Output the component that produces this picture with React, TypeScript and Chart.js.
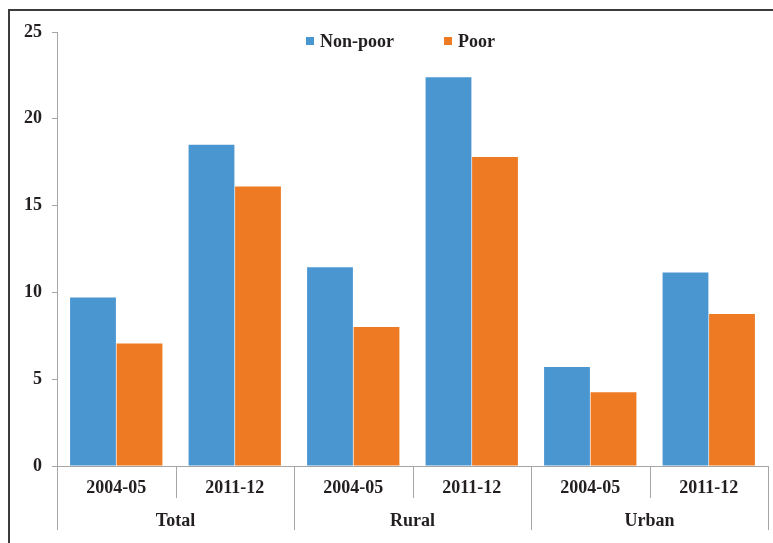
import React, { useEffect, useRef } from "react";
import { Chart, registerables } from "chart.js";

Chart.register(...registerables);

const categories = ["2004-05", "2011-12", "2004-05", "2011-12", "2004-05", "2011-12"];
const groups = ["Total", "Rural", "Urban"];
const nonPoor = [9.7, 18.5, 11.45, 22.4, 5.7, 11.15];
const poor = [7.05, 16.1, 8.0, 17.8, 4.25, 8.75];
const yTicks = [0, 5, 10, 15, 20, 25];

const BLUE = "#4A96D1";
const ORANGE = "#EE7A23";
const TEXT = "#231F20";
const AXIS = "#A6A6A6";
const FONT = "'Liberation Serif', 'Times New Roman', serif";

const decorPlugin = {
  id: "decor",
  afterDraw(chart: any) {
    const ctx = chart.ctx;
    const x = chart.scales.x;
    const area = chart.chartArea;
    ctx.save();
    // frame
    ctx.fillStyle = "#3C3C3C";
    ctx.fillRect(8, 9, chart.width - 8, 2);
    ctx.fillRect(8, 9, 2, chart.height - 9);

    // separators
    const n = categories.length;
    const half = (x.getPixelForValue(1) - x.getPixelForValue(0)) / 2;
    ctx.strokeStyle = AXIS;
    ctx.lineWidth = 1;
    for (let i = 0; i <= n; i++) {
      const px = Math.round(x.getPixelForValue(i) - half) + 0.5;
      const isGroup = i % 2 === 0;
      ctx.beginPath();
      ctx.moveTo(px, area.bottom);
      ctx.lineTo(px, isGroup ? area.bottom + 64 : area.bottom + 32);
      ctx.stroke();
    }
    // group labels
    ctx.fillStyle = TEXT;
    ctx.font = `bold 18px ${FONT}`;
    ctx.textAlign = "center";
    ctx.textBaseline = "middle";
    groups.forEach((g, gi) => {
      const cx = (x.getPixelForValue(gi * 2) + x.getPixelForValue(gi * 2 + 1)) / 2;
      ctx.fillText(g, cx, area.bottom + 55);
    });

    // legend
    const items = chart.data.datasets.map((d: any) => ({ label: d.label, color: d.backgroundColor }));
    const pos = [306, 444];
    ctx.textAlign = "left";
    items.forEach((it: any, i: number) => {
      ctx.fillStyle = it.color;
      ctx.fillRect(pos[i], 37, 8, 8);
      ctx.fillStyle = TEXT;
      ctx.fillText(it.label, pos[i] + 14, 42);
    });
    ctx.restore();
  },
};

export default function App() {
  const ref = useRef<HTMLCanvasElement>(null);
  useEffect(() => {
    if (!ref.current) return;
    const chart = new Chart(ref.current, {
      type: "bar",
      data: {
        labels: categories,
        datasets: [
          { label: "Non-poor", data: nonPoor, backgroundColor: BLUE },
          { label: "Poor", data: poor, backgroundColor: ORANGE },
        ],
      },
      options: {
        responsive: false,
        animation: false,
        layout: { padding: { left: 0, top: 32, right: 5, bottom: 0 } },
        datasets: { bar: { categoryPercentage: 0.785, barPercentage: 0.985 } },
        plugins: { legend: { display: false }, tooltip: { enabled: false } },
        scales: {
          x: {
            grid: { display: false, drawTicks: false },
            border: { display: true, color: AXIS },
            ticks: {
              color: TEXT,
              font: { family: FONT, size: 18, weight: "bold" },
              padding: 12,
              maxRotation: 0,
              autoSkip: false,
            },
            afterFit: (s: any) => {
              s.height = 77;
            },
          },
          y: {
            min: 0,
            max: 25,
            afterBuildTicks: (s: any) => {
              s.ticks = yTicks.map((v) => ({ value: v }));
            },
            grid: { drawOnChartArea: false, tickLength: 5, color: AXIS },
            border: { display: true, color: AXIS },
            ticks: {
              color: TEXT,
              font: { family: FONT, size: 18, weight: "bold" },
              padding: 10,
            },
            afterFit: (s: any) => {
              s.width = 57;
            },
          },
        },
      },
      plugins: [decorPlugin],
    });
    return () => chart.destroy();
  }, []);
  return (
    <div style={{ position: "absolute", left: 0, top: 0, width: 773, height: 543, background: "#fff" }}>
      <canvas ref={ref} width={773} height={543} />
    </div>
  );
}
